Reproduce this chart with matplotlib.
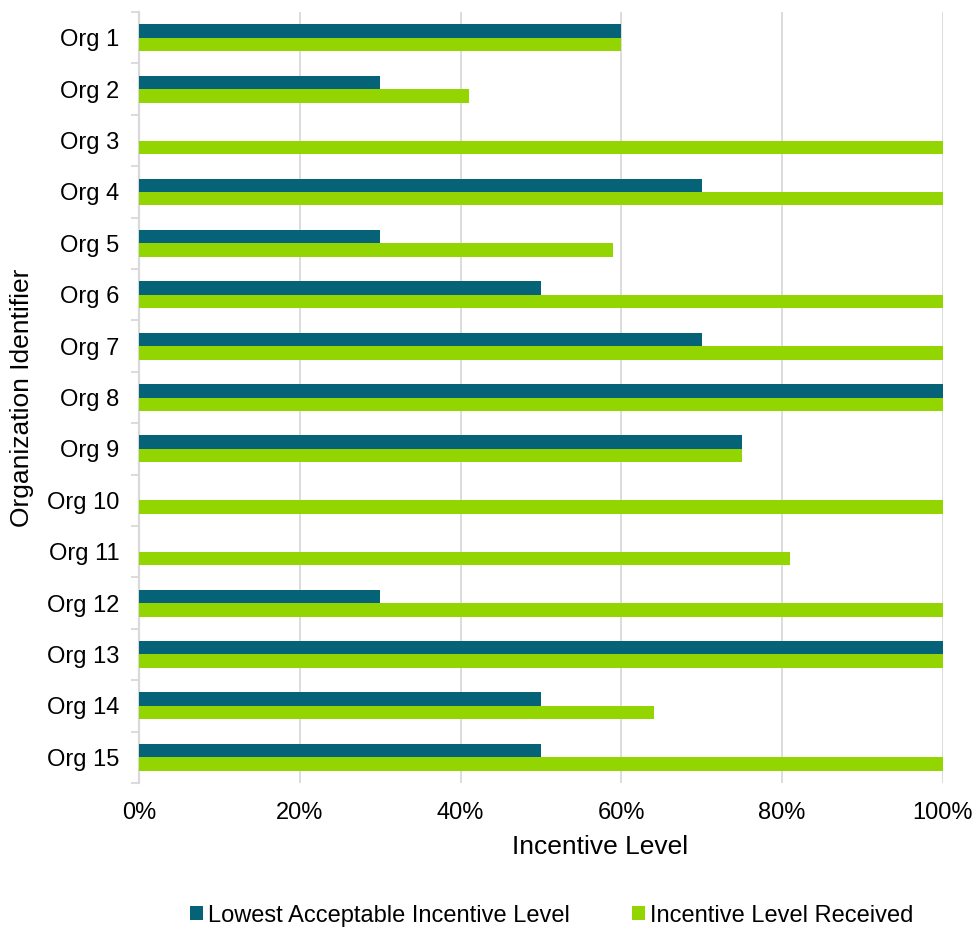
import numpy as np
import matplotlib.pyplot as plt
from matplotlib.ticker import FixedLocator, PercentFormatter

plt.rcParams['font.family'] = ['Liberation Sans', 'DejaVu Sans']

orgs = ['Org %d' % i for i in range(1, 16)]
lowest = [60, 30, 0, 70, 30, 50, 70, 100, 75, 0, 0, 30, 100, 50, 50]
received = [60, 41, 100, 100, 59, 100, 100, 100, 75, 100, 81, 100, 100, 64, 100]

dark = '#056277'
green = '#92D500'
grid = '#D9D9D9'

fig = plt.figure(figsize=(9.78, 9.31), dpi=100)
ax = fig.add_axes([0.1421, 0.159, 0.8221, 0.828])

y = np.arange(len(orgs))
h = 0.262
ax.barh(y - h / 2, lowest, height=h, color=dark, label='Lowest Acceptable Incentive Level', zorder=3)
ax.barh(y + h / 2, received, height=h, color=green, label='Incentive Level Received', zorder=3)

ax.set_xlim(0, 100)
ax.set_ylim(len(orgs) - 0.5, -0.5)
ax.set_xticks(np.arange(0, 101, 20))
ax.xaxis.set_major_formatter(PercentFormatter(decimals=0))
ax.set_yticks(y)
ax.set_yticklabels(orgs)
# small tick marks between the categories
ax.yaxis.set_minor_locator(FixedLocator(np.arange(-0.5, len(orgs), 1)))

ax.tick_params(axis='x', length=0, pad=14, labelsize=17)
ax.tick_params(axis='y', which='major', length=0, pad=14, labelsize=17)
ax.tick_params(axis='y', which='minor', length=6, width=1.3, color=grid)

ax.grid(axis='x', color=grid, linewidth=1.3, zorder=0)
for s in ['top', 'right', 'bottom']:
    ax.spines[s].set_visible(False)
ax.spines['left'].set_color(grid)
ax.spines['left'].set_linewidth(1.6)

ax.set_xlabel('Incentive Level', fontsize=19, va='center')
ax.xaxis.set_label_coords(0.5734, -0.083)
ax.set_ylabel('Organization Identifier', fontsize=19, va='center')
ax.yaxis.set_label_coords(-0.1455, 0.5)

fig.legend(loc='center', bbox_to_anchor=(0.564, 0.0165), ncol=2, frameon=False,
           fontsize=17, handlelength=0.55, handleheight=0.55, handletextpad=0.22,
           columnspacing=2.6, borderpad=0)

fig.savefig('out.png', dpi=100)
